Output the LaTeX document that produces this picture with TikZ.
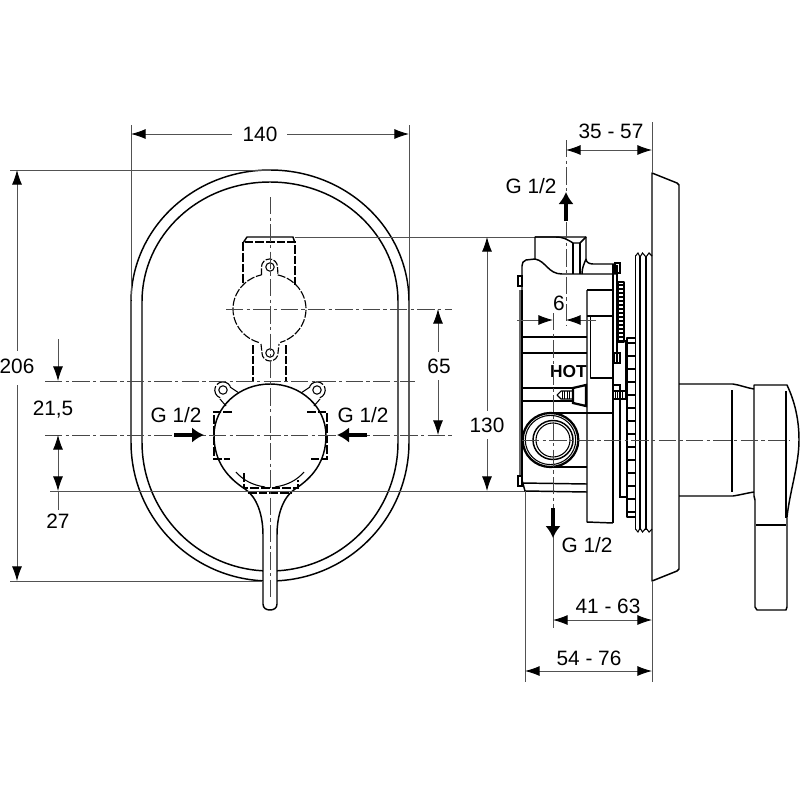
\documentclass[tikz,border=0pt]{standalone}
\usepackage{fontspec}
\setmainfont{Liberation Sans}
\usetikzlibrary{arrows.meta}
\tikzset{
  obj/.style={line width=1.1pt,black,line join=round},
  objthin/.style={line width=.8pt,black},
  heavy/.style={line width=1.7pt,black},
  hid/.style={line width=.85pt,black,dash pattern=on 6.5pt off 1.5pt},
  dimline/.style={line width=.65pt,black!68,>={Latex[length=11pt,width=7.5pt,black]}},
  cline/.style={line width=.65pt,black!72,dash pattern=on 13pt off 2.5pt on 2.5pt off 2.5pt},
  flow/.style={line width=3pt,black,-{Latex[length=9pt,width=11.5pt]}},
  lbl/.style={font=\fontsize{15.6}{15.6}\selectfont,inner sep=0pt,fill=none}
}
\begin{document}
\begin{tikzpicture}[x=0.75pt,y=-0.75pt]
\useasboundingbox (0,0) rectangle (800,800);
\fill[white] (0,0) rectangle (800,800);
% ---------- front view: rosette
\draw[obj] (131,302) .. controls (131,229) and (193,170) .. (270,170) .. controls (347,170) and (409,229) .. (409,302)
  -- (409,442) .. controls (409,519) and (347,581) .. (270,581) .. controls (193,581) and (131,519) .. (131,442) -- cycle;
\draw[obj] (142,302) .. controls (142,235) and (199,182) .. (270,182) .. controls (341,182) and (398,235) .. (398,302)
  -- (398,442) .. controls (398,513) and (341,571) .. (270,571) .. controls (199,571) and (142,513) .. (142,442) -- cycle;
% main body + lever
\draw[obj,fill=white] (214,435.5) .. controls (214,407) and (239,384) .. (270,384) .. controls (301,384) and (326,407) .. (326,435.5)
  .. controls (326,462) and (312,478) .. (295,489) .. controls (283,497) and (277,515) .. (277,535)
  -- (277,604) .. controls (277,608) and (274,610) .. (270,610) .. controls (266,610) and (263,608) .. (263,604)
  -- (263,535) .. controls (263,515) and (257,497) .. (245,489) .. controls (228,478) and (214,462) .. (214,435.5);
\draw[objthin] (236,472) .. controls (243,480) and (252,485) .. (265,487);
\draw[objthin] (304,472) .. controls (297,480) and (288,485) .. (275,487);
% hidden box on lever
\draw[hid] (244,473) -- (244,488) -- (298,488) -- (298,480);
\draw[hid] (248,493) -- (292,493);
% hidden inlet brackets
\draw[hid] (232,412) -- (214,412) -- (214,459) -- (230,459);
\draw[hid] (307,412) -- (327,412) -- (327,459) -- (309,459);
% lugs at main body
\draw[objthin] (223,390) circle[radius=4.2];
\draw[objthin] (317,390) circle[radius=4.2];
\draw[hid,dash pattern=on 12pt off 1.5pt] (230.4,386.6) arc[start angle=-25,end angle=-250,radius=8.2];
\draw[hid,dash pattern=on 12pt off 1.5pt] (309.6,386.6) arc[start angle=205,end angle=430,radius=8.2];
\draw[objthin] (230,387) -- (239,393);
\draw[objthin] (220,399) -- (226,406);
\draw[objthin] (310,387) -- (301,393);
\draw[objthin] (320,399) -- (314,406);
% upper hidden part
\draw[hid] (243,283) -- (243,242) -- (295,242) -- (295,285);
\draw[obj] (243,243) -- (247,237) -- (293,237) -- (295,243);
\draw[hid] (253,345) -- (253,382);
\draw[hid] (286,345) -- (286,382);
\coordinate (upc) at (269.5,309);
\draw[hid,dash pattern=on 6pt off 1.3pt] (upc) ++(283:36.5 and 35) arc[start angle=283,end angle=433,x radius=36.5,y radius=35];
\draw[hid,dash pattern=on 6pt off 1.3pt] (upc) ++(107:36.5 and 35) arc[start angle=107,end angle=257,x radius=36.5,y radius=35];
\draw[hid,dash pattern=on 5pt off 1.2pt] (261.5,275) -- (261.5,267) arc[start angle=180,end angle=360,radius=8] -- (278,275);
\draw[hid,dash pattern=on 5pt off 1.2pt] (261,344) -- (262,353) arc[start angle=180,end angle=0,radius=8] -- (279,344);
\draw[objthin] (270,267) circle[radius=4.2];
\draw[objthin] (270,353) circle[radius=4.2];
% centre lines, front view
\draw[cline] (270,197) -- (270,600);
\draw[cline] (226,309) -- (452,309);
\draw[cline] (45,381) -- (415,381);
\draw[cline] (45,435) -- (452,435);
% ---------- dimensions, front view
\draw[dimline] (10,170) -- (270,170);
\draw[dimline] (10,581) -- (263,581);
\draw[dimline] (50,491) -- (525,491);
\draw[dimline] (295,237) -- (535,237);
\draw[dimline] (131,125) -- (131,300);
\draw[dimline] (409,125) -- (409,300);
\draw[dimline,<-] (131,134) -- (232,134);
\draw[dimline,->] (287,134) -- (409,134);
\node[lbl] (d140) at (260,134) {140};
\draw[dimline,<-] (17,170) -- (17,351);
\draw[dimline,->] (17,385) -- (17,581);
\node[lbl] (d206) at (17,366) {206};
\draw[dimline,<-] (438,309) -- (438,352);
\draw[dimline,->] (438,380) -- (438,435);
\node[lbl] (d65) at (439,366) {65};
\draw[dimline,->] (58,339) -- (58,381);
\draw[dimline,<->] (58,435) -- (58,491);
\draw[dimline] (58,491) -- (58,510);
\node[lbl] (d215) at (53,410) {21,5};
\node[lbl] (d27) at (58,521) {27};
\draw[dimline,<-] (487,237) -- (487,411);
\draw[dimline,->] (487,439) -- (487,491);
\node[lbl] (d130) at (487,425) {130};
\node[lbl] (gl) at (176,415) {G 1/2};
\node[lbl] (gr) at (363,415) {G 1/2};
\draw[flow] (174,435) -- (204,435);
\draw[flow] (367,435) -- (337,435);
% ---------- side view: body
\draw[obj] (535,259) -- (535,237) -- (586,237) -- (586,259) .. controls (586,262) and (589,264) .. (593,264) -- (616,264);
\draw[obj] (535,259) .. controls (546,261) and (548,274) .. (562,274) -- (616,274);
\draw[obj] (535,259) -- (526,260) .. controls (523,261) and (522,263) .. (522,266) -- (522,290);
\draw[obj] (535,237) -- (556,237) .. controls (564,237) and (568,240) .. (573,243) -- (580,243) -- (586,237);
\draw[obj] (573,243) -- (573,274);
\draw[obj] (580,243) -- (580,274);
\draw[obj] (586,259) .. controls (584,264) and (582,268) .. (582,274);
\draw[line width=2pt,black!60] (520,290) -- (520,476);
\draw[objthin] (522,290) -- (522,478);
\draw[objthin] (518,276) rectangle (522,286);
\draw[objthin] (518,476) rectangle (522,486);
\draw[obj] (522,483) -- (587,484);
\draw[obj] (522,480) -- (525,491) -- (587,492);
\draw[obj] (522,337) -- (587,337);
\draw[obj] (522,353) -- (587,353);
\draw[obj] (522,388) -- (572,388);
\draw[obj] (522,401) -- (572,401);
\draw[obj] (587,290) -- (612,290);
\draw[obj] (587,290) -- (587,522) -- (613,523);
\draw[obj] (587,316) -- (612,316);
\draw[obj] (590.5,316) -- (590.5,378) -- (613,378);
\draw[obj] (587,413) -- (613,413);
\draw[heavy] (613,264) -- (613,360);
\draw[obj] (613,360) -- (613,523);
\draw[objthin] (617,265) -- (617,362);
\draw[objthin] (615,263) rectangle (620,273);
\draw[objthin] (614,353) rectangle (620,363);
% small rib strip
\draw[obj] (618,282) rectangle (624,342);
\foreach \yy in {285,289,...,341} \draw[line width=.8pt] (618,\yy) -- (624,\yy);
% lower brackets
\draw[objthin] (613,385) -- (620,385) -- (620,497) -- (627,497);
\draw[objthin] (626,340) -- (626,390);
% big rib strip
\draw[obj] (627,338) rectangle (635.5,517);
\foreach \yy in {343,356,...,515} \draw[line width=1.4pt] (627,\yy) -- (635.5,\yy);
% threaded sleeve
\draw[obj] (635.5,517) -- (635.5,256);
\draw[obj] (640,530) -- (640,256);
\draw[obj] (646,530) -- (646,256);
\draw[objthin] (635.5,256) -- (638,253) -- (640,257) -- (642.5,253) -- (646,257) -- (649,253) -- (652,256);
\draw[objthin] (635.5,529) -- (638,532) -- (640,528) -- (642.5,532) -- (646,528) -- (649,532) -- (652,529);
\draw[obj] (635.5,517) -- (635.5,529);
% screw
\draw[heavy,fill=white] (573,388) -- (586,385) -- (586,406) -- (573,403) -- cycle;
\draw[objthin] (557,395) -- (561,391) -- (572,391) (557,395) -- (561,399) -- (572,399);
\foreach \xx in {562,564.5,...,572} \draw[line width=.7pt] (\xx,391) -- (\xx,399);
\draw[objthin] (614,391) -- (626,391) (614,399) -- (626,399);
\foreach \xx in {615,617.5,...,626} \draw[line width=.7pt] (\xx,391) -- (\xx,399);
\node[font=\bfseries\fontsize{13}{13}\selectfont,inner sep=0pt] (hot) at (568.5,372) {HOT};
% connection
\draw[heavy] (550.5,440) circle[x radius=27.8,y radius=27];
\draw[objthin] (550.5,440) circle[x radius=25.2,y radius=24.6];
\draw[obj] (553,440) circle[x radius=20,y radius=19.5];
\draw[objthin] (553,440) circle[x radius=17,y radius=17];
\draw[heavy] (553,413) -- (587,413);
\draw[heavy] (553,467) -- (587,467);
% rosette plate
\draw[obj] (652,173) -- (677,183) -- (679,185) -- (679,569) -- (677,571) -- (652,581) -- cycle;
% handle
\draw[obj] (679,384) -- (733,384) .. controls (740,385) and (747,388) .. (754,389);
\draw[obj] (679,496) -- (733,496) .. controls (740,495) and (747,493) .. (754,492);
\draw[obj] (732,390) -- (732,492);
\draw[obj] (754,385) -- (787,385) .. controls (795,402) and (799,420) .. (799,440) .. controls (799,465) and (790,490) .. (787,517) -- (787,607)
  -- (786,610) -- (757,610) -- (755,607) -- (755,500) -- (754,496) -- cycle;
\draw[obj] (786,391) -- (786,518);
\draw[obj] (756,525) -- (786,525);
% side view centre lines
\draw[cline] (522,440) -- (790,440);
\draw[cline] (566,140) -- (566,325);
\draw[cline] (553,313) -- (553,510);
% ---------- dimensions, side view
\draw[dimline] (652,122) -- (652,173);
\draw[dimline] (652,581) -- (652,682);
\draw[dimline] (525,491) -- (525,682);
\draw[dimline] (553,524) -- (553,628);
\draw[dimline,<->] (566,150) -- (652,150);
\node[lbl] (d3557) at (611,131) {35 - 57};
\draw[dimline,->] (517,320) -- (553,320);
\draw[dimline,->] (596,320) -- (566,320);
\node[lbl] (d6) at (559,303) {6};
\draw[dimline,<->] (553,620) -- (652,620);
\node[lbl] (d4163) at (608,606) {41 - 63};
\draw[dimline,<->] (525,671) -- (652,671);
\node[lbl] (d5476) at (589,658) {54 - 76};
\node[lbl] (gt) at (531,186) {G 1/2};
\node[lbl] (gb) at (587,545) {G 1/2};
\draw[flow] (566,221) -- (566,192);
\draw[flow] (553,508) -- (553,538);
\end{tikzpicture}
\end{document}
